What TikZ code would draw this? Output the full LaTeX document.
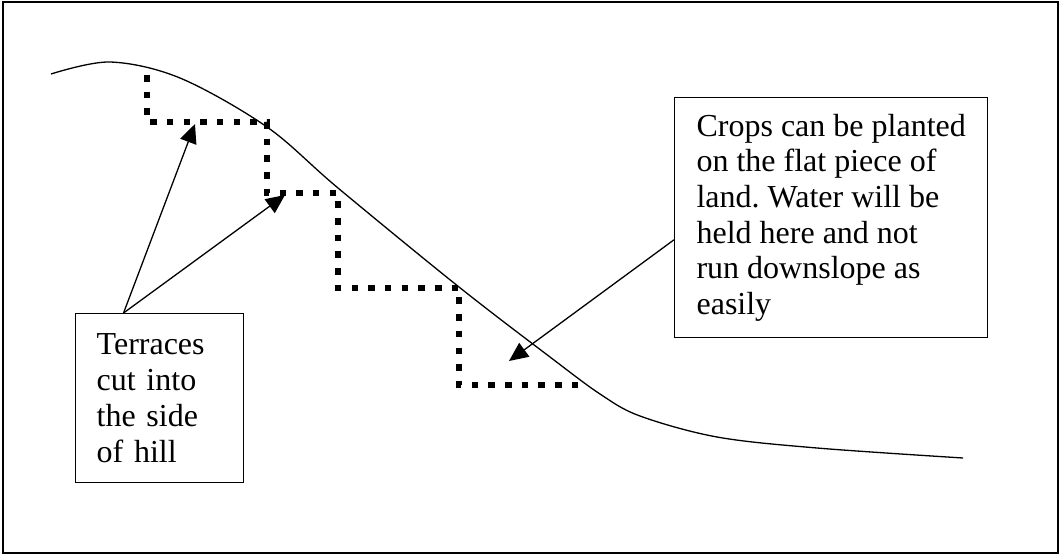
\documentclass[tikz,border=0pt]{standalone}
\usepackage{fontspec}
\setmainfont{Liberation Serif}
\usetikzlibrary{arrows.meta}

\tikzset{
  textbox/.style={draw, line width=1.4pt, align=left, inner sep=0pt,
    font=\fontsize{32}{35.7}\selectfont\frenchspacing},
  pointer/.style={line width=1.3pt, -{Triangle[length=19pt,width=17pt]}},
  hill/.style={line width=1.3pt},
  terrace/.style={line width=6.5pt, dash pattern=on 6.5pt off 10.2pt},
}

\begin{document}
\begin{tikzpicture}[x=1pt, y=-1pt]
  \useasboundingbox (0,0) rectangle (1060,554);
  % outer frame
  \draw[line width=1.7pt] (3,2) rectangle (1058,553);

  % hillside profile
  \draw[hill] plot[smooth, tension=0.55] coordinates {
    (51,74) (110,62) (180,78) (267,127) (338,188) (459,287)
    (550,357) (600,394) (640,416) (717,437) (817,448) (963,458)};

  % terrace steps cut into the slope
  \draw[terrace] (147,75) -- (147,122) -- (267,122) -- (267,193)
    -- (338,193) -- (338,288) -- (459,288) -- (459,385) -- (578,385);

  % label boxes
  \node[textbox, anchor=north west, minimum width=168pt, minimum height=169pt,
        text width=126pt] (tb) at (75,313)
    {Terraces\\cut into\\the side\\of hill};
  \node[textbox, anchor=north west, minimum width=313pt, minimum height=240pt]
    (cb) at (674,97)
    {Crops can be planted\\on the flat piece of\\land. Water will be\\held here and not\\run downslope as\\easily};

  % arrow targets on the terraces
  \coordinate (t1) at (195,124);
  \coordinate (t2) at (285,195);
  \coordinate (t3) at (509,361);

  \draw[pointer] (tb.113.07) -- (t1);
  \draw[pointer] (tb.113.07) -- (t2);
  \draw[pointer] (cb.188.0) -- (t3);
\end{tikzpicture}
\end{document}
